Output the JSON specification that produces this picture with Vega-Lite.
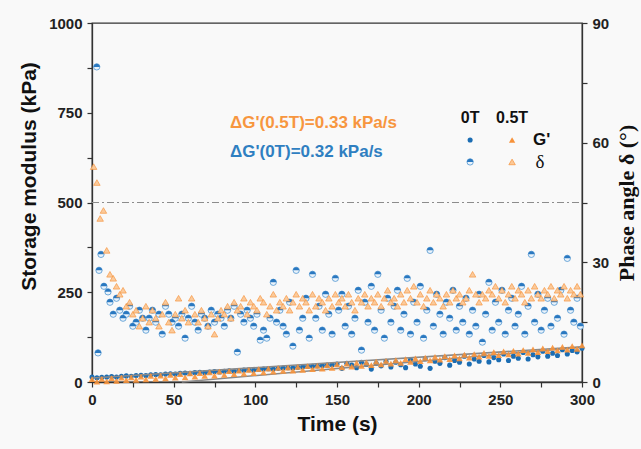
{
  "$schema": "https://vega.github.io/schema/vega-lite/v6.json",
  "description": "Storage modulus and phase angle versus time, 0T and 0.5T",
  "width": 490,
  "height": 359,
  "autosize": "none",
  "padding": {"left": 92, "top": 23, "right": 59, "bottom": 67},
  "background": "#f9f9f9",
  "datasets": {
    "g0": [
      {"t":0,"g":14},{"t":3,"g":12},{"t":6,"g":13},{"t":9,"g":14},{"t":12,"g":15},{"t":15,"g":14},{"t":18,"g":16},{"t":21,"g":17},{"t":24,"g":16},{"t":27,"g":18},
      {"t":30,"g":19},{"t":33,"g":18},{"t":36,"g":20},{"t":39,"g":21},{"t":42,"g":20},{"t":45,"g":22},{"t":48,"g":23},{"t":51,"g":22},{"t":54,"g":24},{"t":57,"g":25},
      {"t":60,"g":24},{"t":63,"g":26},{"t":66,"g":27},{"t":69,"g":26},{"t":72,"g":28},{"t":75,"g":29},{"t":78,"g":28},{"t":81,"g":30},{"t":84,"g":31},{"t":87,"g":30},
      {"t":90,"g":32},{"t":93,"g":33},{"t":96,"g":34},{"t":99,"g":33},{"t":102,"g":35},{"t":105,"g":36},{"t":108,"g":37},{"t":111,"g":36},{"t":114,"g":38},{"t":117,"g":39},
      {"t":120,"g":40},{"t":123,"g":39},{"t":126,"g":41},{"t":129,"g":42},{"t":132,"g":43},{"t":135,"g":44},{"t":138,"g":45},{"t":141,"g":46},{"t":144,"g":47},{"t":147,"g":48},
      {"t":150,"g":50},{"t":153,"g":38},{"t":156,"g":52},{"t":159,"g":47},{"t":162,"g":40},{"t":165,"g":55},{"t":168,"g":49},{"t":171,"g":36},{"t":174,"g":52},{"t":177,"g":45},
      {"t":180,"g":58},{"t":183,"g":42},{"t":186,"g":55},{"t":189,"g":48},{"t":192,"g":40},{"t":195,"g":62},{"t":198,"g":50},{"t":201,"g":44},{"t":204,"g":65},{"t":207,"g":38},
      {"t":210,"g":58},{"t":213,"g":52},{"t":216,"g":68},{"t":219,"g":47},{"t":222,"g":60},{"t":225,"g":55},{"t":228,"g":72},{"t":231,"g":50},{"t":234,"g":64},{"t":237,"g":58},
      {"t":240,"g":74},{"t":243,"g":56},{"t":246,"g":68},{"t":249,"g":62},{"t":252,"g":78},{"t":255,"g":60},{"t":258,"g":72},{"t":261,"g":66},{"t":264,"g":82},{"t":267,"g":64},
      {"t":270,"g":76},{"t":273,"g":70},{"t":276,"g":86},{"t":279,"g":72},{"t":282,"g":80},{"t":285,"g":74},{"t":288,"g":90},{"t":291,"g":78},{"t":294,"g":88},{"t":297,"g":84},
      {"t":300,"g":94}
    ],
    "g5": [
      {"t":0,"g":8},{"t":3,"g":1},{"t":6,"g":9},{"t":9,"g":2},{"t":12,"g":11},{"t":15,"g":3},{"t":18,"g":12},{"t":21,"g":5},{"t":24,"g":13},{"t":27,"g":6},
      {"t":30,"g":15},{"t":33,"g":7},{"t":36,"g":17},{"t":39,"g":9},{"t":42,"g":18},{"t":45,"g":10},{"t":48,"g":20},{"t":51,"g":12},{"t":54,"g":22},{"t":57,"g":13},
      {"t":60,"g":24},{"t":63,"g":15},{"t":66,"g":25},{"t":69,"g":17},{"t":72,"g":27},{"t":75,"g":18},{"t":78,"g":29},{"t":81,"g":20},{"t":84,"g":30},{"t":87,"g":22},
      {"t":90,"g":32},{"t":93,"g":23},{"t":96,"g":34},{"t":99,"g":25},{"t":102,"g":36},{"t":105,"g":27},{"t":108,"g":37},{"t":111,"g":29},{"t":114,"g":39},{"t":117,"g":31},
      {"t":120,"g":40},{"t":123,"g":32},{"t":126,"g":42},{"t":129,"g":34},{"t":132,"g":44},{"t":135,"g":36},{"t":138,"g":45},{"t":141,"g":37},{"t":144,"g":47},{"t":147,"g":39},
      {"t":150,"g":49},{"t":153,"g":41},{"t":156,"g":51},{"t":159,"g":43},{"t":162,"g":53},{"t":165,"g":45},{"t":168,"g":55},{"t":171,"g":47},{"t":174,"g":57},{"t":177,"g":49},
      {"t":180,"g":59},{"t":183,"g":51},{"t":186,"g":61},{"t":189,"g":53},{"t":192,"g":64},{"t":195,"g":56},{"t":198,"g":66},{"t":201,"g":58},{"t":204,"g":68},{"t":207,"g":60},
      {"t":210,"g":70},{"t":213,"g":62},{"t":216,"g":72},{"t":219,"g":64},{"t":222,"g":74},{"t":225,"g":66},{"t":228,"g":76},{"t":231,"g":68},{"t":234,"g":78},{"t":237,"g":71},
      {"t":240,"g":81},{"t":243,"g":73},{"t":246,"g":83},{"t":249,"g":75},{"t":252,"g":85},{"t":255,"g":77},{"t":258,"g":87},{"t":261,"g":79},{"t":264,"g":89},{"t":267,"g":81},
      {"t":270,"g":91},{"t":273,"g":83},{"t":276,"g":94},{"t":279,"g":86},{"t":282,"g":96},{"t":285,"g":88},{"t":288,"g":98},{"t":291,"g":90},{"t":294,"g":100},{"t":297,"g":92},
      {"t":300,"g":102}
    ],
    "d0": [
      {"t":2.9,"d":79},{"t":3.7,"d":7.3},{"t":4.3,"d":28},{"t":5.5,"d":32},{"t":7.3,"d":24},{"t":9.8,"d":22.6},{"t":11,"d":20},{"t":13,"d":17},{"t":15,"d":21},{"t":17,"d":18},
      {"t":19,"d":16},{"t":21,"d":17},{"t":23,"d":19},{"t":25,"d":14},{"t":27,"d":15},{"t":29,"d":18},{"t":31,"d":16},{"t":33,"d":13},{"t":35,"d":16},{"t":37,"d":18},
      {"t":39,"d":15},{"t":41,"d":17},{"t":43,"d":12},{"t":45,"d":19},{"t":47,"d":17},{"t":49,"d":15},{"t":51,"d":16},{"t":53,"d":14},{"t":55,"d":17},{"t":57,"d":11},
      {"t":59,"d":16},{"t":61,"d":19},{"t":63,"d":15},{"t":65,"d":13},{"t":67,"d":17},{"t":69,"d":16},{"t":71,"d":14},{"t":73,"d":18},{"t":75,"d":15},{"t":77,"d":17},
      {"t":79,"d":16},{"t":81,"d":14},{"t":83,"d":18},{"t":85,"d":16},{"t":87,"d":19},{"t":89,"d":7.5},{"t":91,"d":17},{"t":93,"d":15},{"t":95,"d":18},{"t":97,"d":16},
      {"t":99,"d":14},{"t":101,"d":17},{"t":103,"d":10.5},{"t":105,"d":13},{"t":107,"d":11},{"t":109,"d":16},{"t":111,"d":25},{"t":113,"d":15},{"t":115,"d":18},{"t":117,"d":14},
      {"t":119,"d":12},{"t":121,"d":20},{"t":123,"d":9},{"t":125,"d":28},{"t":127,"d":13},{"t":129,"d":16},{"t":131,"d":21},{"t":133,"d":11},{"t":135,"d":27},{"t":137,"d":16},
      {"t":139,"d":19},{"t":141,"d":13},{"t":143,"d":22},{"t":145,"d":17},{"t":147,"d":12},{"t":149,"d":26},{"t":151,"d":18},{"t":153,"d":22},{"t":155,"d":14},{"t":157,"d":19},
      {"t":159,"d":12},{"t":161,"d":16},{"t":163,"d":23},{"t":165,"d":8},{"t":167,"d":20},{"t":169,"d":15},{"t":171,"d":24},{"t":173,"d":13},{"t":175,"d":27},{"t":177,"d":18},
      {"t":179,"d":11},{"t":181,"d":21},{"t":183,"d":15},{"t":185,"d":19},{"t":187,"d":23},{"t":189,"d":13},{"t":191,"d":17},{"t":193,"d":26},{"t":195,"d":12},{"t":197,"d":20},
      {"t":199,"d":15},{"t":201,"d":24},{"t":203,"d":11},{"t":205,"d":18},{"t":207,"d":33},{"t":209,"d":14},{"t":211,"d":22},{"t":213,"d":17},{"t":215,"d":12},{"t":217,"d":20},
      {"t":219,"d":16},{"t":221,"d":23},{"t":223,"d":13},{"t":225,"d":19},{"t":227,"d":15},{"t":229,"d":21},{"t":231,"d":12},{"t":233,"d":18},{"t":235,"d":14},{"t":237,"d":22},
      {"t":239,"d":10},{"t":241,"d":17},{"t":243,"d":25},{"t":245,"d":13},{"t":247,"d":20},{"t":249,"d":15},{"t":251,"d":23},{"t":253,"d":12},{"t":255,"d":18},{"t":257,"d":21},
      {"t":259,"d":14},{"t":261,"d":17},{"t":263,"d":24},{"t":265,"d":12},{"t":267,"d":19},{"t":269,"d":32},{"t":271,"d":15},{"t":273,"d":22},{"t":275,"d":13},{"t":277,"d":18},
      {"t":279,"d":21},{"t":281,"d":14},{"t":283,"d":20},{"t":285,"d":16},{"t":287,"d":23},{"t":289,"d":12},{"t":291,"d":31},{"t":293,"d":18},{"t":295,"d":15},{"t":297,"d":21},
      {"t":299,"d":14}
    ],
    "d5": [
      {"t":1,"d":54},{"t":3,"d":50},{"t":5,"d":41},{"t":7,"d":43},{"t":9,"d":33},{"t":11,"d":27},{"t":13,"d":26},{"t":15,"d":24},{"t":17,"d":22},{"t":19,"d":23},
      {"t":21,"d":19},{"t":23,"d":20},{"t":25,"d":17},{"t":27,"d":18},{"t":29,"d":14},{"t":31,"d":16},{"t":33,"d":19},{"t":35,"d":15},{"t":37,"d":18},{"t":39,"d":16},
      {"t":41,"d":14},{"t":43,"d":17},{"t":45,"d":20},{"t":47,"d":15},{"t":49,"d":13},{"t":51,"d":17},{"t":53,"d":21},{"t":55,"d":16},{"t":57,"d":18},{"t":59,"d":15},
      {"t":61,"d":21},{"t":63,"d":17},{"t":65,"d":15},{"t":67,"d":18},{"t":69,"d":16},{"t":71,"d":14},{"t":73,"d":17},{"t":75,"d":12},{"t":77,"d":16},{"t":79,"d":18},
      {"t":81,"d":17},{"t":83,"d":19},{"t":85,"d":16},{"t":87,"d":20},{"t":89,"d":18},{"t":91,"d":19},{"t":93,"d":21},{"t":95,"d":17},{"t":97,"d":20},{"t":99,"d":19},
      {"t":101,"d":18},{"t":103,"d":21},{"t":105,"d":20},{"t":107,"d":17},{"t":109,"d":19},{"t":111,"d":22},{"t":113,"d":18},{"t":115,"d":20},{"t":117,"d":19},{"t":119,"d":21},
      {"t":121,"d":18},{"t":123,"d":20},{"t":125,"d":22},{"t":127,"d":19},{"t":129,"d":21},{"t":131,"d":20},{"t":133,"d":18},{"t":135,"d":22},{"t":137,"d":19},{"t":139,"d":21},
      {"t":141,"d":20},{"t":143,"d":18},{"t":145,"d":21},{"t":147,"d":19},{"t":149,"d":22},{"t":151,"d":20},{"t":153,"d":21},{"t":155,"d":19},{"t":157,"d":22},{"t":159,"d":20},
      {"t":161,"d":18},{"t":163,"d":21},{"t":165,"d":20},{"t":167,"d":22},{"t":169,"d":19},{"t":171,"d":21},{"t":173,"d":20},{"t":175,"d":22},{"t":177,"d":19},{"t":179,"d":21},
      {"t":181,"d":23},{"t":183,"d":20},{"t":185,"d":21},{"t":187,"d":19},{"t":189,"d":22},{"t":191,"d":20},{"t":193,"d":23},{"t":195,"d":21},{"t":197,"d":24},{"t":199,"d":20},
      {"t":201,"d":22},{"t":203,"d":19},{"t":205,"d":21},{"t":207,"d":23},{"t":209,"d":20},{"t":211,"d":22},{"t":213,"d":21},{"t":215,"d":19},{"t":217,"d":22},{"t":219,"d":20},
      {"t":221,"d":23},{"t":223,"d":21},{"t":225,"d":22},{"t":227,"d":20},{"t":229,"d":21},{"t":231,"d":23},{"t":233,"d":27},{"t":235,"d":22},{"t":237,"d":20},{"t":239,"d":22},
      {"t":241,"d":21},{"t":243,"d":23},{"t":245,"d":22},{"t":247,"d":24},{"t":249,"d":21},{"t":251,"d":23},{"t":253,"d":20},{"t":255,"d":22},{"t":257,"d":24},{"t":259,"d":21},
      {"t":261,"d":23},{"t":263,"d":22},{"t":265,"d":20},{"t":267,"d":23},{"t":269,"d":21},{"t":271,"d":24},{"t":273,"d":22},{"t":275,"d":21},{"t":277,"d":23},{"t":279,"d":22},
      {"t":281,"d":24},{"t":283,"d":21},{"t":285,"d":23},{"t":287,"d":22},{"t":289,"d":24},{"t":291,"d":21},{"t":293,"d":23},{"t":295,"d":22},{"t":297,"d":24},{"t":299,"d":22}
    ],
    "fit": [
      {"f":"0T","t":0,"g":11},{"f":"0T","t":300,"g":98},
      {"f":"0.5T","t":55,"g":0},{"f":"0.5T","t":300,"g":97}
    ],
    "ref": [{"t":0,"g":500},{"t":300,"g":500}],
    "notes": [
      {"t":84.5,"g":721,"txt":"ΔG'(0.5T)=0.33 kPa/s","s":"0.5T"},
      {"t":84.5,"g":641,"txt":"ΔG'(0T)=0.32 kPa/s","s":"0T"}
    ],
    "legsym": [
      {"k":"G0","t":231.5,"g":674},{"k":"G5","t":257.2,"g":674},
      {"k":"D0","t":231.5,"g":613},{"k":"D5","t":257.2,"g":613}
    ],
    "leghead": [
      {"t":231.5,"g":735,"txt":"0T"},{"t":257.2,"g":735,"txt":"0.5T"}
    ],
    "legname": [
      {"t":270,"g":674,"txt":"G'","k":"G"},{"t":271.5,"g":613,"txt":"δ","k":"D"}
    ]
  },
  "encoding": {
    "x": {
      "field": "t",
      "type": "quantitative",
      "scale": {"domain": [0, 300], "nice": false},
      "axis": {
        "title": "Time (s)",
        "values": [0, 25, 50, 75, 100, 125, 150, 175, 200, 225, 250, 275, 300],
        "labelExpr": "datum.value % 50 == 0 ? datum.label : ''",
        "labelFlush": false,
        "titleFontSize": 21,
        "titlePadding": 6
      }
    }
  },
  "layer": [
    {
      "encoding": {
        "y": {
          "field": "g",
          "type": "quantitative",
          "scale": {"domain": [0, 1000], "nice": false},
          "axis": {
            "orient": "left",
            "title": "Storage modulus (kPa)",
            "values": [0, 125, 250, 375, 500, 625, 750, 875, 1000],
            "format": "d",
            "labelExpr": "datum.value % 250 == 0 ? datum.label : ''",
            "labelFlush": false,
            "titleFontSize": 21,
            "titlePadding": 9,
            "titleY": 153
          }
        }
      },
      "layer": [
        {
          "data": {"name": "ref"},
          "mark": {"type": "line", "color": "#8c8c8c", "strokeWidth": 1, "strokeDash": [7, 3, 2, 3]}
        },
        {
          "data": {"name": "g0"},
          "mark": {"type": "point", "shape": "circle", "filled": true, "size": 26, "color": "#1b6db3", "opacity": 1}
        },
        {
          "data": {"name": "fit"},
          "mark": {"type": "line", "color": "#8a8a8a", "strokeWidth": 1.6},
          "encoding": {"detail": {"field": "f"}}
        },
        {
          "data": {"name": "g5"},
          "mark": {"type": "point", "shape": "triangle-up", "filled": true, "size": 44, "color": "#f7923a", "opacity": 0.9}
        },
        {
          "data": {"name": "notes"},
          "transform": [{"filter": "datum.s == '0.5T'"}],
          "mark": {"type": "text", "align": "left", "baseline": "middle", "font": "Liberation Sans", "fontWeight": "bold", "fontSize": 17, "color": "#f7963f"},
          "encoding": {"text": {"field": "txt"}}
        },
        {
          "data": {"name": "notes"},
          "transform": [{"filter": "datum.s == '0T'"}],
          "mark": {"type": "text", "align": "left", "baseline": "middle", "font": "Liberation Sans", "fontWeight": "bold", "fontSize": 17, "color": "#2f7fc1"},
          "encoding": {"text": {"field": "txt"}}
        },
        {
          "data": {"name": "legsym"},
          "transform": [{"filter": "datum.k == 'G0'"}],
          "mark": {"type": "point", "shape": "circle", "filled": true, "size": 26, "color": "#1b6db3", "opacity": 1}
        },
        {
          "data": {"name": "legsym"},
          "transform": [{"filter": "datum.k == 'G5'"}],
          "mark": {"type": "point", "shape": "triangle-up", "filled": true, "size": 40, "color": "#f7923a", "opacity": 1}
        },
        {
          "data": {"name": "legsym"},
          "transform": [{"filter": "datum.k == 'D0'"}],
          "mark": {"type": "point", "shape": "circle", "filled": true, "size": 40, "fill": "#eaf3fb", "stroke": "#4f95d0", "strokeWidth": 0.8, "opacity": 1}
        },
        {
          "data": {"name": "legsym"},
          "transform": [{"filter": "datum.k == 'D0'"}],
          "mark": {"type": "point", "shape": "M -1 0 A 1 1 0 0 1 1 0 Z", "filled": true, "size": 40, "color": "#2a78c0", "opacity": 1}
        },
        {
          "data": {"name": "legsym"},
          "transform": [{"filter": "datum.k == 'D5'"}],
          "mark": {"type": "point", "shape": "triangle-up", "filled": true, "size": 42, "fill": "#fcc896", "stroke": "#f7923a", "strokeWidth": 0.7, "opacity": 1}
        },
        {
          "data": {"name": "leghead"},
          "mark": {"type": "text", "align": "center", "baseline": "middle", "font": "Liberation Sans", "fontWeight": "bold", "fontSize": 16, "color": "#111"},
          "encoding": {"text": {"field": "txt"}}
        },
        {
          "data": {"name": "legname"},
          "transform": [{"filter": "datum.k == 'G'"}],
          "mark": {"type": "text", "align": "left", "baseline": "middle", "font": "Liberation Sans", "fontWeight": "bold", "fontSize": 17, "color": "#111"},
          "encoding": {"text": {"field": "txt"}}
        },
        {
          "data": {"name": "legname"},
          "transform": [{"filter": "datum.k == 'D'"}],
          "mark": {"type": "text", "align": "left", "baseline": "middle", "font": "Liberation Serif", "fontSize": 19, "color": "#111"},
          "encoding": {"text": {"field": "txt"}}
        }
      ]
    },
    {
      "encoding": {
        "y": {
          "field": "d",
          "type": "quantitative",
          "scale": {"domain": [0, 90], "nice": false},
          "axis": {
            "orient": "right",
            "title": "Phase angle δ (°)",
            "values": [0, 15, 30, 45, 60, 75, 90],
            "labelExpr": "datum.value % 30 == 0 ? datum.label : ''",
            "labelFlush": false,
            "titleFont": "Liberation Serif",
            "titleFontSize": 22,
            "titleAngle": 270,
            "titleBaseline": "top",
            "titlePadding": 8
          }
        }
      },
      "layer": [
        {
          "data": {"name": "d0"},
          "mark": {"type": "point", "shape": "circle", "filled": true, "size": 40, "fill": "#eaf3fb", "stroke": "#4f95d0", "strokeWidth": 0.8, "opacity": 1}
        },
        {
          "data": {"name": "d0"},
          "mark": {"type": "point", "shape": "M -1 0 A 1 1 0 0 1 1 0 Z", "filled": true, "size": 40, "color": "#2a78c0", "opacity": 1}
        },
        {
          "data": {"name": "d5"},
          "mark": {"type": "point", "shape": "triangle-up", "filled": true, "size": 42, "fill": "#fcc896", "stroke": "#f7923a", "strokeWidth": 0.7, "opacity": 0.95}
        }
      ]
    }
  ],
  "resolve": {"scale": {"y": "independent"}},
  "config": {
    "view": {"stroke": "#333", "strokeWidth": 1.3},
    "axis": {
      "grid": false,
      "domainColor": "#333",
      "domainWidth": 1.3,
      "tickColor": "#333",
      "tickWidth": 1.2,
      "tickSize": 5,
      "labelFont": "Liberation Sans",
      "labelFontWeight": "bold",
      "labelFontSize": 15,
      "labelColor": "#222",
      "labelPadding": 5,
      "titleFont": "Liberation Sans",
      "titleFontWeight": "bold",
      "titleColor": "#111"
    }
  }
}
